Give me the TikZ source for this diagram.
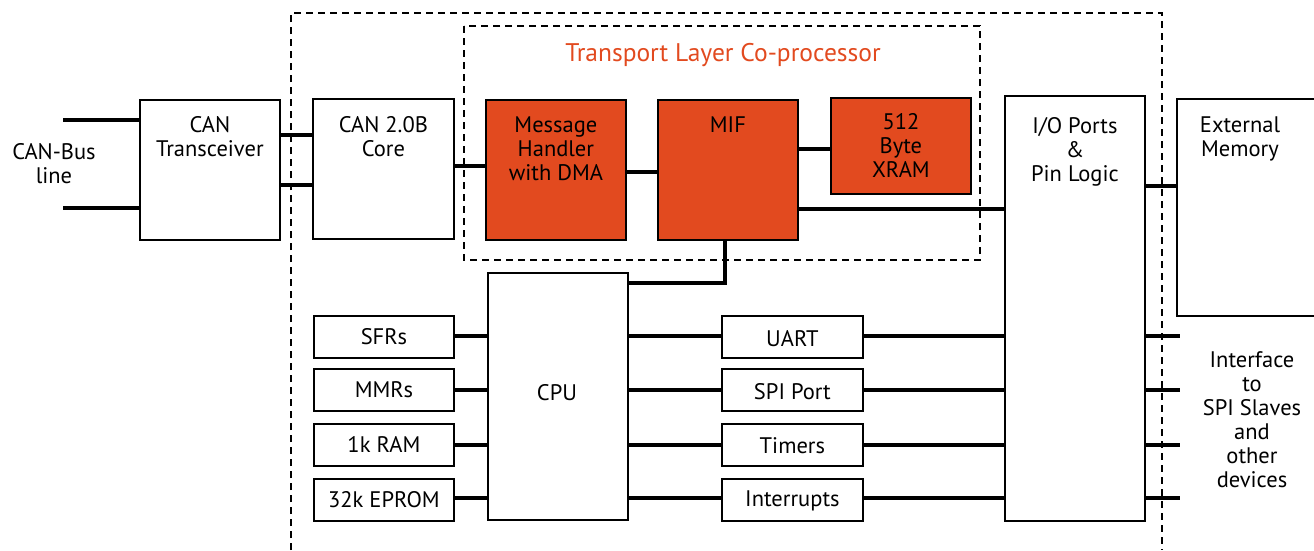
\documentclass[tikz,border=0pt]{standalone}
\usepackage{fontspec}
\setmainfont{PT Sans}
\definecolor{tlc}{HTML}{E24A1F}
\begin{document}
\begin{tikzpicture}[x=1pt,y=-1pt,
  box/.style={draw=black, line width=1.8pt, anchor=north west, inner sep=0pt},
  obox/.style={box, fill=tlc},
  conn/.style={line width=4.2pt},
  dbox/.style={line width=1.8pt, dash pattern=on 7pt off 5pt},
  txt/.style={font=\fontsize{22.5}{24}\selectfont, align=center, anchor=north, inner sep=0pt},
  ctxt/.style={font=\fontsize{22.5}{24}\selectfont, align=center, inner sep=0pt}
]
\useasboundingbox (0,0) rectangle (1314,550);

% frames
\draw[dbox] (291,550) -- (291,13) -- (1162,13) -- (1162,550);
\draw[dbox] (464,26) rectangle (980,260);
\node[txt, text=tlc, font=\fontsize{25.5}{28}\selectfont] (tlctitle) at (723,43) {Transport Layer Co-processor};

% top row boxes
\node[box, minimum width=140pt, minimum height=140pt] (trx) at (139,99) {};
\node[box, minimum width=141pt, minimum height=140pt] (core) at (312,98) {};
\node[obox, minimum width=140pt, minimum height=140pt] (mh) at (485,99) {};
\node[obox, minimum width=140pt, minimum height=140pt] (mif) at (657,99) {};
\node[obox, minimum width=140pt, minimum height=96pt] (xram) at (830,97) {};
\node[box, minimum width=140pt, minimum height=425pt] (io) at (1004,95) {};
\node[box, minimum width=139pt, minimum height=217pt] (ext) at (1176,98) {};

% CPU and peripherals
\node[box, minimum width=140pt, minimum height=247pt] (cpu) at (487,272) {};
\node[box, minimum width=140pt, minimum height=42pt] (sfr) at (313,315) {};
\node[box, minimum width=140pt, minimum height=42pt] (mmr) at (313,368) {};
\node[box, minimum width=140pt, minimum height=42pt] (ram) at (313,423) {};
\node[box, minimum width=140pt, minimum height=42pt] (eprom) at (313,478) {};
\node[box, minimum width=141pt, minimum height=42pt] (uart) at (721,315) {};
\node[box, minimum width=141pt, minimum height=42pt] (spi) at (721,368) {};
\node[box, minimum width=141pt, minimum height=42pt] (tim) at (721,423) {};
\node[box, minimum width=141pt, minimum height=42pt] (irq) at (721,478) {};

% texts
\node[txt] (bust) at (54,143) {CAN-Bus\\line};
\node[txt] (trxt) at (trx.north |- 0,116) {CAN\\Transceiver};
\node[txt] (coret) at (core.north |- 0,116) {CAN 2.0B\\Core};
\node[txt] (mht) at (mh.north |- 0,117) {Message\\Handler\\with DMA};
\node[txt] (mift) at (mif.north |- 0,117) {MIF};
\node[txt] (xramt) at (xram.north |- 0,113) {512\\Byte\\XRAM};
\node[txt] (iot) at (io.north |- 0,117) {I/O Ports\\\&\\Pin Logic};
\node[txt] (extt) at (1240,117) {External\\Memory};
\node[txt] (ift) at (1252,351) {Interface\\to\\SPI Slaves\\and\\other\\devices};
\node[ctxt] (cput) at (557,393) {CPU};
\node[ctxt] at (sfr.center) {SFRs};
\node[ctxt] at (mmr.center) {MMRs};
\node[ctxt] at (ram.center) {1k RAM};
\node[ctxt] at (eprom.center) {32k EPROM};
\node[ctxt] at ([yshift=-2pt]uart.center) {UART};
\node[ctxt] at ([yshift=-2pt]spi.center) {SPI Port};
\node[ctxt] at ([yshift=-1pt]tim.center) {Timers};
\node[ctxt] at ([yshift=-1pt]irq.center) {Interrupts};

% free ends
\coordinate (busA) at (63,120);
\coordinate (busB) at (63,208);

% connectors
\draw[conn] (busA) -- (trx.west |- busA);
\draw[conn] (busB) -- (trx.west |- busB);
\draw[conn] (trx.east |- 0,135) -- (core.west |- 0,135);
\draw[conn] (trx.east |- 0,185) -- (core.west |- 0,185);
\draw[conn] (core.east |- 0,166) -- (mh.west |- 0,166);
\draw[conn] (mh.east |- 0,172) -- (mif.west |- 0,172);
\draw[conn] (mif.east |- 0,149) -- (xram.west |- 0,149);
\draw[conn] (mif.east |- 0,209) -- (io.west |- 0,209);
\draw[conn] (io.east |- 0,186) -- (ext.west |- 0,186);
\draw[conn] ([xshift=-3pt]mif.south) |- (cpu.east |- 0,283);

\foreach \a/\b/\y in {sfr/uart/336, mmr/spi/390, ram/tim/445, eprom/irq/498}{
  \draw[conn] (\a.east |- 0,\y) -- (cpu.west |- 0,\y);
  \draw[conn] (cpu.east |- 0,\y) -- (\b.west |- 0,\y);
  \draw[conn] (\b.east |- 0,\y) -- (io.west |- 0,\y);
  \draw[conn] (io.east |- 0,\y) -- ++(34,0) coordinate (stub\b);
}
\end{tikzpicture}
\end{document}
